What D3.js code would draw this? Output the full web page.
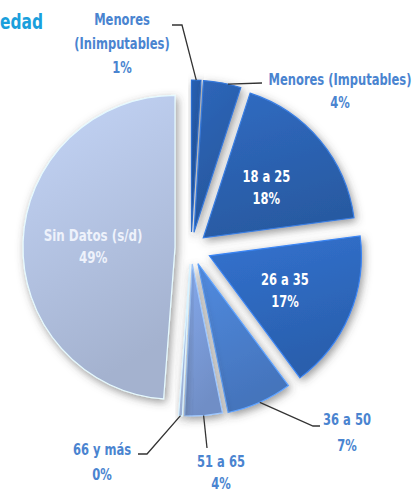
<!DOCTYPE html>
<html>
<head>
<meta charset="utf-8">
<script src="https://cdn.jsdelivr.net/npm/d3@7"></script>
<style>
  body { margin: 0; background: #fff; }
  #chart svg { display: block; }
  text { font-family: "DejaVu Sans Condensed", "Liberation Sans Narrow", sans-serif; font-weight: bold; }
</style>
</head>
<body>
<div id="chart"></div>
<script>
// data
const categories = ["Menores (Inimputables)", "Menores (Imputables)", "18 a 25", "26 a 35", "36 a 50", "51 a 65", "66 y más", "Sin Datos (s/d)"];
const values = [1, 4, 18, 17, 7, 4, 0.4, 49];
const pctLabels = ["1%", "4%", "18%", "17%", "7%", "4%", "0%", "49%"];

// styles
const colors = ["#2457a3", "#2a5eab", "#2c62b1", "#2e68bd", "#4a7fcd", "#7a9bd8", "#a9bde6", "#b3c3e2"];
const explode = [16, 16, 16, 20, 17, 16, 16, 16];

var width = 416, height = 492;
var cx = 191, cy = 248, R = 152;

var svg = d3.select("#chart")
  .append("svg")
  .attr("width", width)
  .attr("height", height);

var defs = svg.append("defs");
defs.append("filter")
  .attr("id", "shadow")
  .attr("x", "-30%").attr("y", "-30%")
  .attr("width", "160%").attr("height", "160%")
  .append("feDropShadow")
  .attr("dx", 2).attr("dy", 3)
  .attr("stdDeviation", 4)
  .attr("flood-color", "#444")
  .attr("flood-opacity", 0.55);

colors.forEach(function(c, i) {
  var g = defs.append("linearGradient")
    .attr("id", "grad" + i)
    .attr("x1", 0).attr("y1", 0).attr("x2", 0.3).attr("y2", 1);
  g.append("stop").attr("offset", "0%").attr("stop-color", d3.color(c).brighter(0.25));
  g.append("stop").attr("offset", "100%").attr("stop-color", d3.color(c).darker(0.25));
});

// condensed multi-line text: the font is squeezed sideways to look like the narrow original
function label(parent, x, ys, lines, fill, size, sx, anchor) {
  var t = parent.append("text")
    .attr("transform", "translate(" + x + ",0) scale(" + sx + ",1)")
    .attr("text-anchor", anchor || "middle")
    .attr("fill", fill)
    .style("font-size", size + "px");
  lines.forEach(function(l, k) {
    t.append("tspan").attr("x", 0).attr("y", ys[k]).text(l);
  });
  return t;
}

// title fragment (cut off at the left in the source)
label(svg, 0, [29], ["edad"], "#1a9fdc", 22, 0.78, "start");

var data = categories.map(function(c, i) { return {name: c, value: values[i], pct: pctLabels[i], i: i}; });

var pie = d3.pie().sort(null).value(d => d.value);
var arcs = pie(data);

var arc = d3.arc().innerRadius(0).outerRadius(R);
var labelArc = d3.arc().innerRadius(82).outerRadius(82);

function mid(d) { return (d.startAngle + d.endAngle) / 2; }
function shift(d) {
  var a = mid(d), o = explode[d.data.i];
  return [cx + o * Math.sin(a), cy - o * Math.cos(a)];
}

var slices = svg.selectAll(".slice")
  .data(arcs)
  .enter().append("g")
  .attr("class", "slice")
  .attr("transform", d => "translate(" + shift(d) + ")");

slices.append("path")
  .attr("d", arc)
  .attr("fill", d => "url(#grad" + d.data.i + ")")
  .attr("stroke", d => d3.color(colors[d.data.i]).brighter(0.7))
  .attr("stroke-width", 1.2)
  .attr("filter", "url(#shadow)");

// labels inside the big slices
var inside = [2, 3, 7];
slices.filter(d => inside.indexOf(d.data.i) >= 0).each(function(d) {
  var p = labelArc.centroid(d);
  var faint = d.data.i === 7;
  var g = d3.select(this).append("g").attr("transform", "translate(" + p[0] + ",0)");
  label(g, 0, [p[1] - 3, p[1] + 19], [d.data.name, d.data.pct],
    faint ? "#eef2fb" : "#fff", faint ? 15 : 16, faint ? 0.88 : 0.8);
});

// outside labels with leader lines
var outside = [
  {i: 0, path: [[182, 25], [172, 25]], tx: 122, ty: [25, 49, 73], lines: ["Menores", "(Inimputables)"]},
  {i: 1, frac: 0.65, path: [[262, 83]], tx: 340, ty: [85, 108], lines: ["Menores (Imputables)"]},
  {i: 4, path: [[313, 426], [320, 426]], tx: 347, ty: [425, 451], lines: ["36 a 50"]},
  {i: 5, path: [[207, 448]], tx: 221, ty: [467, 489], lines: ["51 a 65"]},
  {i: 6, path: [[147, 454], [138, 454]], tx: 102, ty: [455, 480], lines: ["66 y más"]}
];

outside.forEach(function(o) {
  var d = arcs[o.i];
  var a = o.frac ? d.startAngle + (d.endAngle - d.startAngle) * o.frac : mid(d);
  var s = shift(d);
  var start = [s[0] + R * Math.sin(a), s[1] - R * Math.cos(a)];
  svg.append("path")
    .datum([start].concat(o.path))
    .attr("fill", "none")
    .attr("stroke", "#333")
    .attr("stroke-width", 1.3)
    .attr("d", d3.line());
  label(svg, o.tx, o.ty, o.lines.concat([d.data.pct]), "#4a84d0", 16, 0.8);
});
</script>
</body>
</html>
